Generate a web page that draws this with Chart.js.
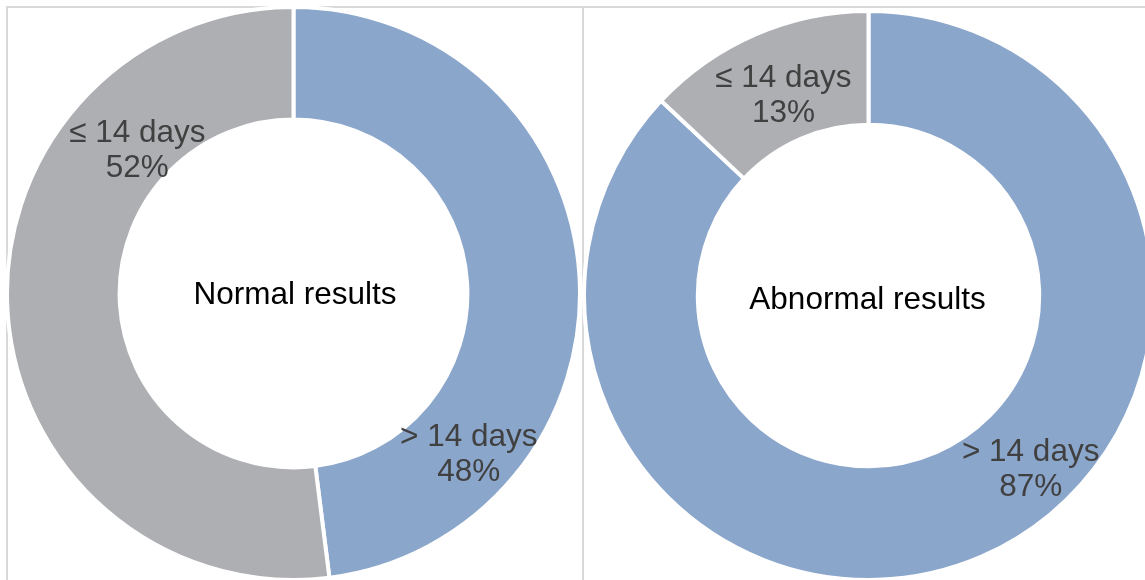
<!DOCTYPE html>
<html>
<head>
<meta charset="utf-8">
<script src="https://cdn.jsdelivr.net/npm/chart.js@4/dist/chart.umd.min.js"></script>
<style>
  html, body { margin:0; padding:0; background:#fff; overflow:hidden; width:1145px; height:580px; }
  .panel { position:absolute; border-left:2px solid #d9d9d9; border-top:2px solid #d9d9d9; }
  canvas { position:absolute; }
</style>
</head>
<body>
<div class="panel" style="left:6px; top:6px; width:600px; height:600px;"></div>
<div class="panel" style="left:582px; top:6px; width:600px; height:600px;"></div>
<canvas id="c1" width="577" height="577" style="left:5px; top:5px;"></canvas>
<canvas id="c2" width="573" height="573" style="left:582px; top:9px;"></canvas>
<script>
// ---- data ----
const categories = ['> 14 days', '\u2264 14 days'];
const normalValues = [48, 52];
const abnormalValues = [87, 13];
const titles = ['Normal results', 'Abnormal results'];

// ---- styling / layout (not data) ----
const sliceColors = ['#8BA6CB', '#AEAFB3'];
// label block centres as fractions of outer radius, relative to donut centre
const labelPosNormal = [[0.612, 0.562], [-0.545, -0.499]];
const labelPosAbnormal = [[0.570, 0.611], [-0.299, -0.703]];
const FONT = '"Liberation Sans", Arial, sans-serif';

const labelPlugin = {
  id: 'donutLabels',
  afterDraw(chart, args, opts) {
    const ctx = chart.ctx;
    const meta = chart.getDatasetMeta(0);
    const arc0 = meta.data[0];
    const cx = arc0.x, cy = arc0.y, R = arc0.outerRadius;
    const vals = chart.data.datasets[0].data;
    const total = vals.reduce((a, b) => a + b, 0);
    ctx.save();
    ctx.textAlign = 'center';
    ctx.textBaseline = 'middle';
    ctx.font = '31.5px ' + FONT;
    ctx.fillStyle = '#404040';
    meta.data.forEach((arc, i) => {
      const p = opts.pos[i];
      const x = cx + p[0] * R, y = cy + p[1] * R;
      const pct = Math.round(vals[i] / total * 100) + '%';
      ctx.fillText(chart.data.labels[i], x, y - 17.5);
      ctx.fillText(pct, x, y + 17.5);
    });
    ctx.fillStyle = '#000000';
    ctx.fillText(opts.title, cx + opts.titleDx, cy + opts.titleDy);
    ctx.restore();
  }
};

function makeChart(id, values, pos, title, tdx, tdy, cutout) {
  return new Chart(document.getElementById(id), {
    type: 'doughnut',
    data: {
      labels: categories,
      datasets: [{
        data: values,
        backgroundColor: sliceColors,
        borderColor: '#ffffff',
        borderWidth: 4,
        hoverOffset: 0
      }]
    },
    options: {
      responsive: false,
      animation: false,
      devicePixelRatio: 1,
      cutout: cutout,
      layout: { padding: 0 },
      plugins: {
        legend: { display: false },
        tooltip: { enabled: false },
        title: { display: false },
        donutLabels: { pos: pos, title: title, titleDx: tdx, titleDy: tdy }
      }
    },
    plugins: [labelPlugin]
  });
}

makeChart('c1', normalValues, labelPosNormal, titles[0], 1.5, 1.5, '60.7%');
makeChart('c2', abnormalValues, labelPosAbnormal, titles[1], -1, 4.5, '60%');
</script>
</body>
</html>
